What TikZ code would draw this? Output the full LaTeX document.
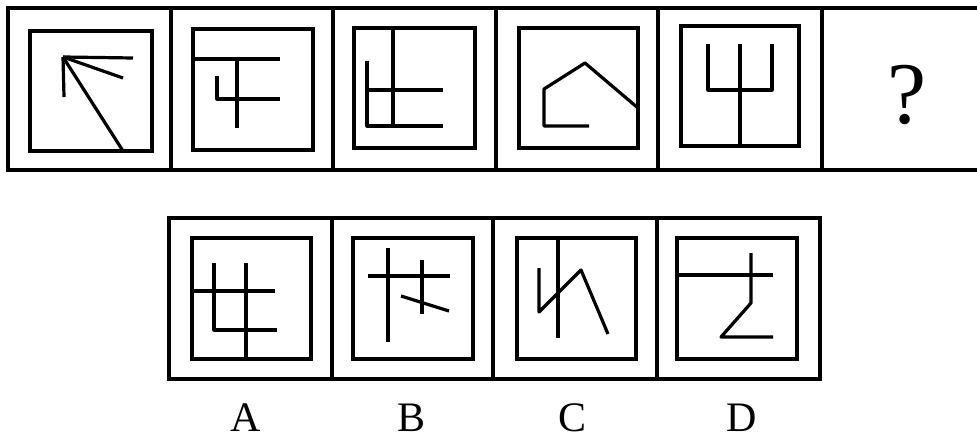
\documentclass[tikz,border=0pt]{standalone}
\usepackage{fontspec}
\setmainfont{Liberation Serif}
\begin{document}
\begin{tikzpicture}[x=1pt,y=-1pt,
  frame/.style={line width=3.2pt},
  fig/.style={line width=3.2pt, line join=round},
  lbl/.style={font=\fontsize{42}{42}\selectfont, inner sep=0pt}]
\useasboundingbox (0,0) rectangle (977,441);
% top row frame
\draw[frame] (977,8) -- (8,8) -- (8,170) -- (977,170);
\foreach \x in {171,333,496,658,822} \draw[frame] (\x,8) -- (\x,170);
% top inner squares
\draw[fig, line join=miter] (30,31) rectangle (152,151);
\draw[fig, line join=miter] (193,29) rectangle (313,150);
\draw[fig, line join=miter] (354,28) rectangle (475,148);
\draw[fig, line join=miter] (519,28) rectangle (638,148);
\draw[fig, line join=miter] (681,26) rectangle (799,146);
% cell 1
\draw[fig] (133,58) -- (63,57);
\draw[fig] (63,57) -- (123,78);
\draw[fig] (64,97) -- (63,57);
\draw[fig] (63,57) -- (123,151);
% cell 2
\draw[fig] (193,59) -- (280,59);
\draw[fig] (237,59) -- (237,128);
\draw[fig] (217,76) -- (217,99) -- (280,99);
% cell 3
\draw[fig] (393,28) -- (393,126);
\draw[fig] (367,61) -- (367,126) -- (443,126);
\draw[fig] (367,90) -- (443,90);
% cell 4
\draw[fig] (589,126) -- (544,126) -- (544,89) -- (585,63) -- (638,108);
% cell 5
\draw[fig] (740,44) -- (740,146);
\draw[fig] (708,44) -- (708,90) -- (772,90) -- (772,44);
% question mark
\node[font=\fontsize{88}{88}\selectfont, inner sep=0pt] (q) at (907,95) {?};
% bottom row frame
\draw[frame] (169,218) rectangle (820,379);
\foreach \x in {332,493,657} \draw[frame] (\x,218) -- (\x,379);
% bottom inner squares
\draw[fig, line join=miter] (192,238) rectangle (311,359);
\draw[fig, line join=miter] (353,238) rectangle (473,359);
\draw[fig, line join=miter] (517,238) rectangle (636,359);
\draw[fig, line join=miter] (677,238) rectangle (797,359);
% A
\draw[fig] (192,291) -- (275,291);
\draw[fig] (214,263) -- (214,330) -- (277,330);
\draw[fig] (246,263) -- (246,359);
% B
\draw[fig] (388,248) -- (388,342);
\draw[fig] (368,276) -- (450,276);
\draw[fig] (422,260) -- (422,314);
\draw[fig] (401,296) -- (449,311);
% C
\draw[fig] (558,238) -- (558,338);
\draw[fig] (539,268) -- (539,312) -- (581,270) -- (608,334);
% D
\draw[fig] (677,275) -- (773,275);
\draw[fig] (751,253) -- (751,303) -- (721,337) -- (773,337);
% labels
\node[lbl] (la) at (246,418) {A};
\node[lbl] (lb) at (412,418) {B};
\node[lbl] (lc) at (572,418) {C};
\node[lbl] (ld) at (742,418) {D};
\end{tikzpicture}
\end{document}
